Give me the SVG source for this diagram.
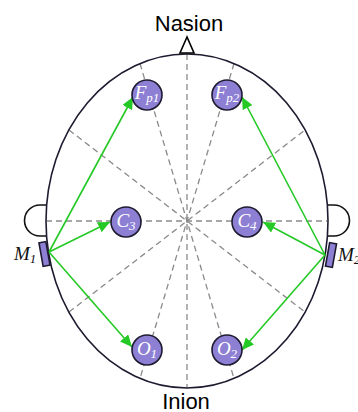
<svg xmlns="http://www.w3.org/2000/svg" width="358" height="412" viewBox="0 0 358 412">
<style>
.guide{stroke:#8a8a8a;stroke-width:1.3;stroke-dasharray:6 4;fill:none}
.head{fill:none;stroke:#1e1b30;stroke-width:1.6}
.ear{fill:#fff;stroke:#111;stroke-width:1.6}
.elec{fill:#8d7fd3;stroke:#1e1b30;stroke-width:1.6}
.lbl{font-family:"Liberation Serif","DejaVu Serif",serif;font-style:italic;font-size:19px;fill:#fff;text-anchor:middle}
.mlbl{font-family:"Liberation Serif","DejaVu Serif",serif;font-style:italic;font-size:19px;fill:#111}
.sub{font-size:13px}
.arrow{stroke:#25c925;stroke-width:1.6;fill:none;marker-end:url(#ah)}
.title{font-family:"Liberation Sans",Arial,sans-serif;font-size:22px;fill:#000;text-anchor:middle}
</style>
<defs>
<marker id="ah" markerWidth="13" markerHeight="11" refX="12" refY="5.5" orient="auto" markerUnits="userSpaceOnUse">
<path d="M0,0 L12,5.5 L0,11 Z" fill="#25c925"/>
</marker>
</defs>
<g id="guides">
<line class="guide" x1="187" y1="54" x2="187" y2="388"/>
<line class="guide" x1="46" y1="221" x2="328" y2="221"/>
<line class="guide" x1="140" y1="63.5" x2="234" y2="378.5"/>
<line class="guide" x1="234" y1="63.5" x2="140" y2="378.5"/>
<line class="guide" x1="69" y1="130" x2="305" y2="312"/>
<line class="guide" x1="69" y1="312" x2="305" y2="130"/>
</g>
<g id="ears">
<path class="ear" d="M47,205 H40 A15.5,15.5 0 0 0 40,236 H47"/>
<path class="ear" d="M327,205 H334 A15.5,15.5 0 0 1 334,236 H327"/>
</g>
<g id="head">
<ellipse class="head" cx="187" cy="221" rx="141" ry="167"/>
</g>
<g id="nasion">
<polygon points="187,37 180,53 194,53" fill="#fff" stroke="#000" stroke-width="1.6"/>
<text class="title" x="189" y="31">Nasion</text>
</g>
<g id="inion">
<text class="title" x="186" y="409">Inion</text>
</g>
<g id="connectors">
<line class="arrow" x1="49" y1="252" x2="133" y2="97"/>
<line class="arrow" x1="49" y1="252" x2="110" y2="222"/>
<line class="arrow" x1="49" y1="252" x2="132" y2="347"/>
<line class="arrow" x1="325" y1="255" x2="242" y2="97"/>
<line class="arrow" x1="325" y1="255" x2="263" y2="222"/>
<line class="arrow" x1="325" y1="255" x2="242" y2="350"/>
</g>
<g id="M1">
<rect class="elec" x="41" y="242" width="7" height="24" transform="rotate(-10 44.5 254)"/>
<text class="mlbl" x="14" y="260">M<tspan class="sub" dy="3">1</tspan></text>
</g>
<g id="M2">
<rect class="elec" x="327.5" y="243" width="7" height="24" transform="rotate(10 331 255)"/>
<text class="mlbl" x="338" y="261">M<tspan class="sub" dy="3">2</tspan></text>
</g>
<g id="Fp1">
<circle class="elec" cx="147" cy="95" r="15"/>
<text class="lbl" x="147" y="99">F<tspan class="sub" dy="3">p1</tspan></text>
</g>
<g id="Fp2">
<circle class="elec" cx="227" cy="95" r="15"/>
<text class="lbl" x="227" y="99">F<tspan class="sub" dy="3">p2</tspan></text>
</g>
<g id="C3">
<circle class="elec" cx="126" cy="222" r="15"/>
<text class="lbl" x="126" y="227">C<tspan class="sub" dy="3">3</tspan></text>
</g>
<g id="C4">
<circle class="elec" cx="247" cy="222" r="15"/>
<text class="lbl" x="247" y="227">C<tspan class="sub" dy="3">4</tspan></text>
</g>
<g id="O1">
<circle class="elec" cx="147" cy="350" r="15"/>
<text class="lbl" x="147" y="355">O<tspan class="sub" dy="3">1</tspan></text>
</g>
<g id="O2">
<circle class="elec" cx="227" cy="350" r="15"/>
<text class="lbl" x="227" y="355">O<tspan class="sub" dy="3">2</tspan></text>
</g>
</svg>
